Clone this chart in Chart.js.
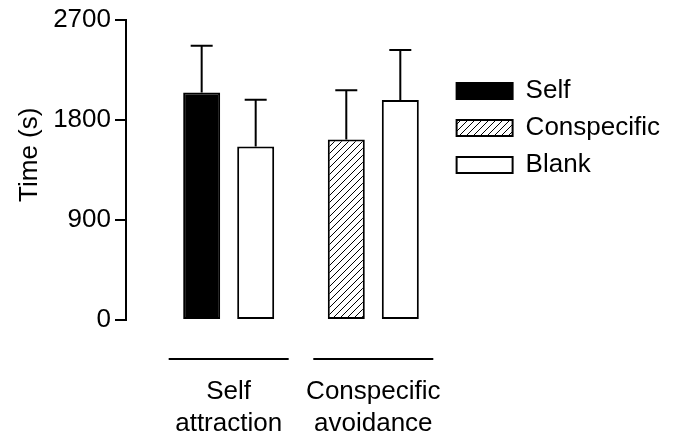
<!DOCTYPE html>
<html>
<head>
<meta charset="utf-8">
<script src="https://cdn.jsdelivr.net/npm/chart.js@4/dist/chart.umd.min.js"></script>
<style>
  html, body { margin: 0; padding: 0; background: #fff; }
</style>
</head>
<body>
<canvas id="chart" width="675" height="435"></canvas>
<script>
// data (time in seconds, upper error only)
const groupLabels = [["Self", "attraction"], ["Conspecific", "avoidance"]];
const groupPos = [1, 2];
const selfTime = [2045, null];
const conspecificTime = [null, 1622];
const blankTime = [1560, 1978];
const selfErr = [420, null];
const conspecificErr = [null, 444];
const blankErr = [420, 449];
const yTicks = [0, 900, 1800, 2700];

Chart.defaults.font.family = "'Liberation Sans', Arial, sans-serif";
Chart.defaults.font.size = 26;
Chart.defaults.color = "#000";

// diagonal hatch for the conspecific bars
function hatch() {
  const s = 7;
  const c = document.createElement("canvas");
  c.width = s; c.height = s;
  const g = c.getContext("2d");
  g.fillStyle = "#fff";
  g.fillRect(0, 0, s, s);
  g.strokeStyle = "#000";
  g.lineWidth = 1;
  g.beginPath();
  g.moveTo(0, s); g.lineTo(s, 0);
  g.moveTo(-1, 1); g.lineTo(1, -1);
  g.moveTo(s - 1, s + 1); g.lineTo(s + 1, s - 1);
  g.stroke();
  return g.createPattern(c, "repeat");
}

const toPoints = arr => arr.map((v, i) => ({ x: groupPos[i], y: v }));

const barStyle = {
  borderColor: "#000",
  borderWidth: 2,
  borderSkipped: false,
  skipNull: true,
  categoryPercentage: 0.747,
  barPercentage: 0.685
};

// error bars, group underlines and the y title
const extras = {
  id: "extras",
  afterDraw(chart) {
    const { ctx, chartArea, scales: { x, y } } = chart;
    ctx.save();
    ctx.strokeStyle = "#000";
    ctx.lineWidth = 2;
    chart.data.datasets.forEach((ds, di) => {
      const meta = chart.getDatasetMeta(di);
      meta.data.forEach((bar, i) => {
        const v = ds.data[i].y;
        if (v == null) return;
        const top = y.getPixelForValue(v + ds.errors[i]);
        ctx.beginPath();
        ctx.moveTo(bar.x, bar.y);
        ctx.lineTo(bar.x, top);
        ctx.moveTo(bar.x - 11, top);
        ctx.lineTo(bar.x + 11, top);
        ctx.stroke();
      });
    });
    const ly = chartArea.bottom + 39;
    groupPos.forEach(g => {
      const cx = x.getPixelForValue(g);
      ctx.beginPath();
      ctx.moveTo(cx - 60, ly);
      ctx.lineTo(cx + 60, ly);
      ctx.stroke();
    });
    ctx.translate(29.5, (chartArea.top + chartArea.bottom) / 2 - 15);
    ctx.rotate(-Math.PI / 2);
    ctx.font = "26px 'Liberation Sans', Arial, sans-serif";
    ctx.fillStyle = "#000";
    ctx.textAlign = "center";
    ctx.textBaseline = "middle";
    ctx.fillText("Time (s)", 0, 0);
    ctx.restore();
  }
};

new Chart(document.getElementById("chart"), {
  type: "bar",
  data: {
    datasets: [
      Object.assign({ label: "Self", data: toPoints(selfTime), errors: selfErr, backgroundColor: "#000" }, barStyle),
      Object.assign({ label: "Conspecific", data: toPoints(conspecificTime), errors: conspecificErr, backgroundColor: hatch() }, barStyle),
      Object.assign({ label: "Blank", data: toPoints(blankTime), errors: blankErr, backgroundColor: "#fff" }, barStyle)
    ]
  },
  options: {
    responsive: false,
    animation: false,
    layout: { padding: { top: 18, right: 5, bottom: 0, left: 0 } },
    plugins: {
      tooltip: { enabled: false },
      legend: {
        position: "right",
        align: "start",
        maxWidth: 240,
        title: { display: true, text: "", font: { size: 10, lineHeight: 1 }, padding: { top: 0, bottom: 39 } },
        labels: { boxWidth: 56, boxHeight: 16, padding: 11, color: "#000", font: { size: 26 } }
      }
    },
    scales: {
      x: {
        type: "linear",
        min: 0.29,
        max: 2.5,
        offset: false,
        afterBuildTicks: s => { s.ticks = groupPos.map(v => ({ value: v })); },
        afterFit: s => { s.height = 115; },
        border: { display: false },
        grid: { display: false, drawTicks: false },
        ticks: {
          padding: 56,
          maxRotation: 0,
          autoSkip: false,
          font: { size: 26, lineHeight: 1.23 },
          callback: v => groupLabels[groupPos.indexOf(v)]
        }
      },
      y: {
        min: 0,
        max: 2700,
        afterBuildTicks: s => { s.ticks = yTicks.map(v => ({ value: v })); },
        afterFit: s => { s.width = 126; },
        border: { color: "#000", width: 2 },
        grid: { drawOnChartArea: false, color: "#000", lineWidth: 2, tickLength: 11 },
        ticks: { padding: 4, font: { size: 26 }, callback: v => String(v) }
      }
    }
  },
  plugins: [extras]
});
</script>
</body>
</html>
